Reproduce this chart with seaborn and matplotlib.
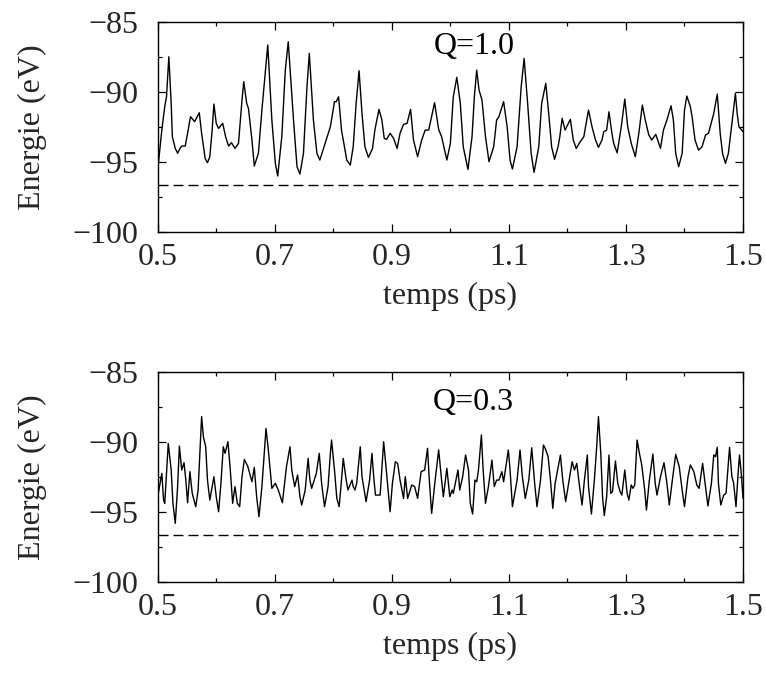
import numpy as np
import pandas as pd
import matplotlib
matplotlib.use("Agg")
import matplotlib.pyplot as plt
from matplotlib.ticker import MultipleLocator
import seaborn as sns

# ---- data ----
t_q10 = [0.500,0.507,0.512,0.515,0.519,0.523,0.525,0.530,0.534,0.538,0.541,0.547,0.551,0.556,0.563,0.571,0.575,0.581,0.585,0.589,0.593,0.596,0.600,0.604,0.611,0.616,0.621,0.626,0.632,0.638,0.644,0.647,0.652,0.655,0.661,0.665,0.672,0.678,0.688,0.695,0.701,0.705,0.712,0.718,0.723,
         0.732,0.738,0.743,0.749,0.755,0.759,0.766,0.772,0.777,0.786,0.795,0.802,0.805,0.809,0.814,0.823,0.829,0.834,0.839,0.844,0.849,0.854,0.860,0.867,0.871,0.878,0.883,0.887,0.891,0.897,0.903,0.909,0.914,0.920,0.926,0.932,0.937,0.944,0.951,0.957,0.963,0.973,0.980,0.985,
         0.994,1.000,1.005,1.011,1.017,1.022,1.030,1.037,1.041,1.045,1.049,1.054,1.060,1.066,1.074,1.079,1.083,1.091,1.097,1.102,1.106,1.114,1.121,1.126,1.132,1.138,1.143,1.151,1.156,1.163,1.168,1.173,1.178,1.184,1.187,1.191,1.196,1.205,1.210,1.215,1.222,1.228,1.236,
         1.242,1.248,1.253,1.259,1.262,1.267,1.271,1.276,1.279,1.285,1.292,1.298,1.303,1.309,1.316,1.322,1.328,1.333,1.339,1.344,1.351,1.359,1.364,1.370,1.377,1.381,1.385,1.390,1.396,1.400,1.404,1.410,1.413,1.418,1.424,1.430,1.436,1.441,1.450,1.456,1.461,1.465,1.470,1.475,1.481,1.487,1.490,1.493,1.500]
e_q10 = [-95.59,-92.74,-91.07,-90.36,-87.50,-90.83,-93.21,-94.05,-94.40,-94.05,-93.88,-93.88,-92.97,-91.78,-92.14,-91.50,-92.97,-94.76,-95.07,-94.64,-92.74,-90.88,-92.26,-92.62,-92.26,-93.21,-93.88,-93.64,-94.05,-93.69,-90.59,-89.28,-90.83,-91.19,-93.45,-95.31,-94.40,-91.31,-86.66,-92.02,-95.12,-96.02,-93.21,-88.45,-86.43,
         -92.02,-95.36,-95.88,-94.40,-89.64,-87.26,-92.02,-94.40,-94.88,-93.69,-92.50,-90.71,-90.71,-90.36,-92.74,-94.88,-95.24,-93.93,-90.83,-88.50,-91.55,-93.93,-94.69,-94.05,-92.74,-91.26,-92.02,-93.33,-93.40,-92.97,-93.33,-94.05,-92.97,-92.33,-92.26,-91.26,-93.45,-94.64,-93.45,-92.74,-92.74,-90.78,-92.70,-93.21,
         -94.88,-93.69,-90.36,-88.97,-90.83,-93.93,-95.55,-93.21,-90.36,-88.45,-89.88,-90.59,-93.21,-95.00,-93.93,-92.02,-91.78,-90.71,-92.50,-94.88,-95.52,-93.93,-89.64,-87.62,-90.83,-94.40,-95.76,-93.93,-90.83,-89.40,-91.55,-93.93,-94.83,-93.93,-93.21,-91.90,-92.74,-91.97,-93.45,-94.05,-93.57,-93.21,-91.31,
         -92.50,-93.45,-93.97,-93.45,-92.86,-92.74,-91.43,-92.97,-93.69,-94.36,-92.50,-90.52,-92.50,-93.69,-94.64,-92.97,-90.95,-92.02,-93.09,-93.45,-93.05,-94.05,-92.74,-92.02,-91.00,-92.02,-94.40,-95.36,-94.40,-91.31,-90.31,-91.07,-91.78,-93.45,-94.17,-93.93,-93.09,-92.97,-91.55,-90.17,-92.97,-94.40,-95.12,-94.40,-92.26,-90.12,-91.55,-92.50,-92.86]

t_q03 = [0.500,0.504,0.507,0.510,0.512,0.518,0.523,0.526,0.530,0.534,0.537,0.541,0.545,0.548,0.551,0.555,0.559,0.565,0.569,0.572,0.575,0.578,0.582,0.585,0.589,0.593,0.596,0.600,0.604,0.608,0.612,0.615,0.620,0.624,0.628,0.632,0.636,0.640,0.644,0.648,0.654,0.661,0.665,0.669,0.673,0.678,0.685,0.689,0.695,0.701,0.706,0.713,0.720,0.726,
         0.729,0.734,0.739,0.743,0.746,0.752,0.757,0.760,0.763,0.771,0.776,0.780,0.785,0.791,0.795,0.797,0.802,0.806,0.810,0.814,0.817,0.822,0.825,0.832,0.834,0.837,0.840,0.846,0.849,0.856,0.862,0.866,0.869,0.872,0.880,0.886,0.890,0.897,0.901,0.906,0.910,0.914,0.920,0.923,0.927,0.934,0.939,0.944,0.950,0.956,0.961,0.964,0.968,0.974,0.980,
         0.985,0.988,0.994,0.999,1.003,1.005,1.013,1.016,1.021,1.026,1.031,1.034,1.038,1.042,1.045,1.048,1.053,1.056,1.060,1.065,1.071,1.075,1.079,1.083,1.088,1.091,1.094,1.099,1.102,1.106,1.114,1.119,1.123,1.128,1.134,1.139,1.144,1.148,1.154,1.159,1.162,1.167,1.171,1.175,1.179,1.188,1.192,1.197,1.203,1.208,1.212,1.216,1.220,1.225,1.229,1.234,
         1.236,1.241,1.246,1.250,1.253,1.257,1.260,1.263,1.267,1.271,1.274,1.277,1.282,1.286,1.290,1.293,1.298,1.302,1.305,1.309,1.312,1.315,1.319,1.323,1.327,1.332,1.335,1.340,1.346,1.350,1.353,1.359,1.365,1.370,1.374,1.380,1.385,1.391,1.396,1.400,1.406,1.410,1.416,1.421,1.425,1.431,1.436,1.440,1.446,1.450,1.453,1.456,1.458,1.462,1.467,1.471,1.477,1.481,1.484,1.488,1.492,1.494,1.497,1.500]
e_q03 = [-93.93,-92.97,-92.26,-94.17,-94.40,-90.12,-92.02,-94.40,-95.83,-93.21,-90.31,-92.02,-91.50,-92.74,-94.36,-92.14,-93.69,-94.64,-93.45,-90.83,-88.21,-89.64,-90.36,-92.74,-94.17,-93.21,-92.50,-93.93,-95.00,-92.97,-90.36,-90.83,-90.00,-92.02,-94.40,-93.21,-94.40,-94.64,-92.50,-91.26,-91.78,-92.86,-91.83,-93.93,-95.36,-93.21,-89.05,-90.59,-93.33,-92.97,-93.45,-94.36,-91.78,-90.36,
         -92.02,-93.21,-92.38,-93.93,-94.52,-93.45,-91.19,-92.74,-93.33,-92.26,-90.83,-92.97,-94.64,-93.21,-90.83,-89.88,-92.02,-94.05,-94.64,-92.74,-91.19,-92.74,-93.45,-92.74,-93.21,-93.45,-92.97,-90.36,-92.50,-94.28,-92.74,-90.83,-92.50,-93.81,-93.81,-90.00,-91.78,-95.00,-92.97,-91.43,-91.55,-92.74,-94.05,-92.50,-94.05,-93.09,-93.21,-94.05,-92.14,-92.02,-90.47,-92.74,-95.12,-92.74,-90.59,
         -92.74,-93.93,-91.90,-93.93,-93.45,-93.69,-92.02,-93.45,-92.50,-90.95,-92.02,-94.40,-95.16,-92.74,-92.86,-92.02,-89.52,-92.02,-94.40,-93.21,-91.31,-93.21,-92.74,-92.74,-92.14,-92.86,-92.02,-90.59,-92.02,-94.64,-92.74,-90.59,-92.50,-94.05,-92.74,-90.43,-92.97,-94.64,-92.74,-90.24,-90.47,-91.07,-92.74,-94.76,-92.97,-90.95,-92.74,-94.28,-92.74,-91.43,-92.02,-91.55,-92.97,-94.52,-92.74,-90.95,
         -93.21,-95.16,-92.74,-90.36,-88.21,-90.83,-93.93,-95.28,-93.93,-90.95,-93.69,-93.57,-91.38,-92.97,-93.57,-93.81,-92.02,-93.69,-94.17,-93.09,-93.33,-93.09,-89.88,-90.83,-91.66,-93.45,-94.88,-92.74,-90.88,-92.97,-93.81,-92.50,-91.50,-92.97,-94.52,-92.50,-90.90,-91.78,-93.45,-94.64,-92.50,-91.66,-92.14,-93.09,-93.33,-91.55,-93.21,-94.59,-92.97,-90.95,-91.07,-90.40,-92.97,-94.52,-93.81,-93.69,-90.40,-92.50,-92.97,-94.64,-92.02,-90.95,-92.26,-94.05]

ground_energy = -96.67
panel_labels = ["Q=1.0", "Q=0.3"]
x_ticks = [0.5, 0.7, 0.9, 1.1, 1.3, 1.5]
x_ticklabels = ["0.5", "0.7", "0.9", "1.1", "1.3", "1.5"]
x_label = "temps (ps)"
y_label = "Energie (eV)"

sns.set_theme(style="ticks")
plt.rcParams['font.family'] = ['Liberation Serif', 'DejaVu Serif']
plt.rcParams['axes.unicode_minus'] = True

fig = plt.figure(figsize=(7.66, 6.75), dpi=100)
left, width, height = 0.2059, 0.7641, 0.3111
ax_top = fig.add_axes([left, 0.6567, width, height])
ax_bot = fig.add_axes([left, 0.1382, width, height])

FS = 23
series = [(ax_top, t_q10, e_q10, panel_labels[0], -87.33),
          (ax_bot, t_q03, e_q03, panel_labels[1], -87.70)]

for ax, t, e, lab, ylab_y in series:
    df = pd.DataFrame({"t": t, "E": e})
    sns.lineplot(data=df, x="t", y="E", ax=ax, color="black", linewidth=1.0,
                 estimator=None, sort=False)
    ax.axhline(ground_energy, color="black", linewidth=1.0, linestyle=(0, (7.2, 3.6)))
    ax.set_xlim(0.5, 1.5)
    ax.set_ylim(-100, -85)
    ax.xaxis.set_minor_locator(MultipleLocator(0.1))
    ax.yaxis.set_major_locator(MultipleLocator(5))
    ax.yaxis.set_minor_locator(MultipleLocator(2.5))
    ax.set_xticks(x_ticks)
    ax.set_xticklabels(x_ticklabels)
    ax.tick_params(which="both", direction="in", top=True, right=True,
                   color="black", width=0.9)
    ax.tick_params(which="major", length=5.5, labelsize=FS, pad=8)
    ax.tick_params(which="minor", length=3.0)
    ax.tick_params(axis="y", which="major", pad=14)
    for s in ax.spines.values():
        s.set_visible(True)
        s.set_color("black")
        s.set_linewidth(1.0)
    ax.set_xlabel(x_label, fontsize=FS)
    ax.set_ylabel(y_label, fontsize=FS)
    ax.yaxis.set_label_coords(-0.189, 0.5)
    ax.xaxis.set_label_coords(0.5, -0.24)
    ax.text(1.04, ylab_y, lab, fontsize=FS, ha="center", va="baseline", color="black")
    ax.set_facecolor("white")

fig.patch.set_facecolor("white")
fig.savefig("out.png", dpi=100, facecolor="white")
